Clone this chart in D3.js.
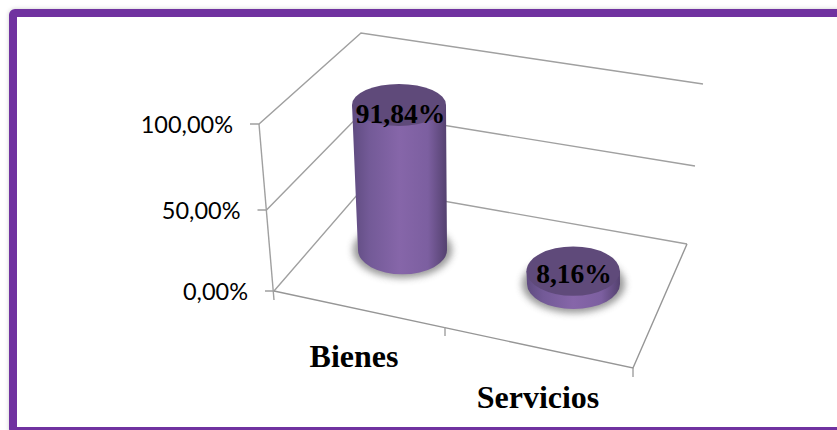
<!DOCTYPE html>
<html>
<head>
<meta charset="utf-8">
<script src="https://cdn.jsdelivr.net/npm/d3@7"></script>
<style>
    html, body { margin: 0; padding: 0; background: #fff; overflow: hidden; }
    .tick-label { font-family: Lato, "Open Sans", sans-serif; font-size: 23.5px; fill: #000; }
    .cat-label { font-family: "Liberation Serif", serif; font-weight: bold; font-size: 32px; fill: #000; }
    .value-label { font-family: "Liberation Serif", serif; font-weight: bold; font-size: 27.5px; fill: #000; }
</style>
</head>
<body>
<div id="chart"></div>
<script>
// Chart data
const categories = ["Bienes", "Servicios"];
const values = [91.84, 8.16];
const valueLabels = ["91,84%", "8,16%"];
const axisTicks = [0, 50, 100];
const tickLabels = ["0,00%", "50,00%", "100,00%"];

// Global constants
const width = 837;
const height = 430;
const tickLength = 9;
const gridColor = "#a0a0a0";
const floorColor = "#969696";

let svg = d3.select("#chart")
    .append("svg")
    .attr("width", width)
    .attr("height", height);

// Scales for the slanted 3D box, one per corner edge
const frontX = d3.scaleLinear().domain([0, 100]).range([274, 259]);
const frontY = d3.scaleLinear().domain([0, 50, 100]).range([291, 210, 124]);
const backLeftX = d3.scaleLinear().domain([0, 100]).range([364, 361]);
const backLeftY = d3.scaleLinear().domain([0, 50, 100]).range([187, 112, 33]);
const backRightX = d3.scaleLinear().domain([0, 100]).range([687, 703]);
const backRightY = d3.scaleLinear().domain([0, 50, 100]).range([244, 166, 84]);

// Scales for the cylinders
const baseX = d3.scalePoint().domain(categories).range([402.5, 573.5]);
const baseY = d3.scalePoint().domain(categories).range([250, 284]);
const baseRx = d3.scalePoint().domain(categories).range([44.5, 46.5]);
const heightPx = d3.scaleLinear().domain([0, 100]).range([0, 158]);
const ryAt = d3.scaleLinear().domain([105, 284]).range([21, 25]);
// The tall cylinder leans and widens towards the top because of the perspective
const leanPx = d3.scaleLinear().domain([0, 100]).range([0, -3.8]);
const widenPx = d3.scaleLinear().domain([0, 100]).range([0, 2.7]);

// Scales for the labels
const catLabelX = d3.scalePoint().domain(categories).range([354, 538]);
const catLabelY = d3.scalePoint().domain(categories).range([367, 408]);
const valueLabelX = d3.scalePoint().domain(categories).range([400.5, 574]);
const valueLabelY = d3.scalePoint().domain(categories).range([123, 283]);

// Ticks under the floor
const floorStops = ["start"].concat(categories);
const floorTickX = d3.scaleOrdinal().domain(floorStops).range([274, 445, 633]);
const floorTickY = d3.scaleOrdinal().domain(floorStops).range([291, 327, 368]);

let defs = svg.append("defs");

// Side shading of the cylinders
let sideGradient = defs.append("linearGradient").attr("id", "side");
sideGradient.selectAll("stop")
    .data([[0, "#5f4b80"], [0.18, "#735a97"], [0.5, "#8666a9"], [0.8, "#7c5fa0"], [1, "#54416f"]])
    .join("stop")
    .attr("offset", (d) => d[0])
    .attr("stop-color", (d) => d[1]);

defs.append("filter")
    .attr("id", "blur")
    .attr("x", "-30%").attr("y", "-30%").attr("width", "160%").attr("height", "160%")
    .append("feGaussianBlur")
    .attr("stdDeviation", 3.5);

defs.append("filter")
    .attr("id", "frame-shadow")
    .attr("x", "-5%").attr("y", "-5%").attr("width", "110%").attr("height", "110%")
    .append("feDropShadow")
    .attr("dx", 0).attr("dy", 0).attr("stdDeviation", 2)
    .attr("flood-color", "#000").attr("flood-opacity", 0.2);

// Purple frame, its right side runs off the picture
svg.append("rect")
    .attr("x", 13)
    .attr("y", 13)
    .attr("width", 900)
    .attr("height", 418)
    .attr("rx", 2)
    .attr("fill", "#fff")
    .attr("stroke", "#7030a0")
    .attr("stroke-width", 8)
    .attr("filter", "url(#frame-shadow)");

let grid = svg.append("g")
    .attr("fill", "none")
    .attr("stroke", gridColor)
    .attr("stroke-width", 1.4);

// Wall lines for every axis tick
axisTicks.forEach((t) => {
    grid.append("polyline")
        .attr("points", [
            [frontX(t) - tickLength, frontY(t)],
            [frontX(t), frontY(t)],
            [backLeftX(t), backLeftY(t)],
            [backRightX(t), backRightY(t)]
        ].join(" "));
});

// Left vertical edge
grid.append("line")
    .attr("x1", frontX(0)).attr("y1", frontY(0) + 9)
    .attr("x2", frontX(100)).attr("y2", frontY(100));

// Floor front and right edges
grid.append("polyline")
    .attr("stroke", floorColor)
    .attr("points", [
        [floorTickX("start"), floorTickY("start")],
        [floorTickX("Servicios"), floorTickY("Servicios")],
        [backRightX(0), backRightY(0)]
    ].join(" "));

grid.selectAll("line.floor-tick")
    .data(categories)
    .join("line")
    .attr("class", "floor-tick")
    .attr("x1", (d) => floorTickX(d))
    .attr("y1", (d) => floorTickY(d))
    .attr("x2", (d) => floorTickX(d))
    .attr("y2", (d) => floorTickY(d) + 9);

// Axis labels
svg.selectAll("text.tick-label")
    .data(axisTicks)
    .join("text")
    .attr("class", "tick-label")
    .attr("x", (d) => frontX(d) - 26)
    .attr("y", (d) => frontY(d) + 9)
    .attr("text-anchor", "end")
    .text((d, i) => tickLabels[i]);

// Cylinders
let bars = svg.selectAll("g.cylinder")
    .data(categories.map((c, i) => ({ category: c, value: values[i], label: valueLabels[i] })))
    .join("g")
    .attr("class", "cylinder");

bars.append("ellipse")
    .attr("cx", (d) => baseX(d.category))
    .attr("cy", (d) => baseY(d.category))
    .attr("rx", (d) => baseRx(d.category) + 5)
    .attr("ry", (d) => ryAt(baseY(d.category)) + 4)
    .attr("fill", "#555")
    .attr("opacity", 0.6)
    .attr("filter", "url(#blur)");

bars.append("path")
    .attr("fill", "url(#side)")
    .attr("d", (d) => {
        let xBase = baseX(d.category);
        let yBase = baseY(d.category);
        let rBase = baseRx(d.category);
        let xTop = xBase + leanPx(d.value);
        let yTop = yBase - heightPx(d.value);
        let rTop = rBase + widenPx(d.value);
        let ry = ryAt(yBase);
        return `M${xTop - rTop},${yTop} L${xBase - rBase},${yBase}`
            + ` A${rBase},${ry} 0 0 0 ${xBase + rBase},${yBase}`
            + ` L${xTop + rTop},${yTop} Z`;
    });

bars.append("ellipse")
    .attr("cx", (d) => baseX(d.category) + leanPx(d.value))
    .attr("cy", (d) => baseY(d.category) - heightPx(d.value))
    .attr("rx", (d) => baseRx(d.category) + widenPx(d.value))
    .attr("ry", (d) => ryAt(baseY(d.category) - heightPx(d.value)))
    .attr("fill", "#5f4a7a");

// Value labels sit on the cylinder tops
bars.append("text")
    .attr("class", "value-label")
    .attr("x", (d) => valueLabelX(d.category))
    .attr("y", (d) => valueLabelY(d.category))
    .attr("text-anchor", "middle")
    .text((d) => d.label);

// Category labels
svg.selectAll("text.cat-label")
    .data(categories)
    .join("text")
    .attr("class", "cat-label")
    .attr("x", (d) => catLabelX(d))
    .attr("y", (d) => catLabelY(d))
    .attr("text-anchor", "middle")
    .text((d) => d);
</script>
</body>
</html>
